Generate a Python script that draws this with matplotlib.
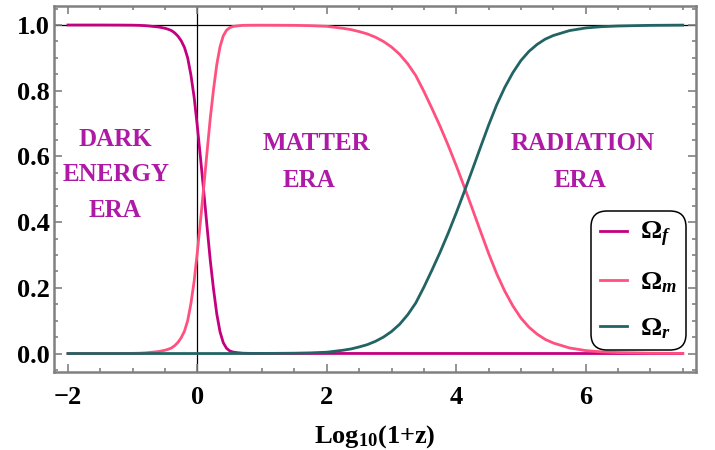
import matplotlib
matplotlib.use("Agg")
import matplotlib.pyplot as plt
from matplotlib.ticker import MultipleLocator, FixedLocator

plt.rcParams['font.family'] = ['Liberation Serif', 'DejaVu Serif']
plt.rcParams['font.weight'] = 'bold'
plt.rcParams['mathtext.fontset'] = 'custom'
plt.rcParams['mathtext.rm'] = 'Liberation Serif:bold'
plt.rcParams['mathtext.bf'] = 'Liberation Serif:bold'
plt.rcParams['mathtext.it'] = 'Liberation Serif:bold:italic'

# Dark-energy fraction vs log10(1+z)
x_f = [-2.0, -1.5, -1.2, -1.0, -0.9, -0.8, -0.7, -0.6, -0.5, -0.45,
       -0.4, -0.35, -0.3, -0.25, -0.2, -0.15, -0.1, -0.05, 0.0, 0.05,
       0.1, 0.15, 0.2, 0.25, 0.3, 0.35, 0.4, 0.45, 0.5, 0.55,
       0.6, 0.7, 0.8, 1.0, 7.5]
omega_f = [1.0, 1.0, 0.9998, 0.9995, 0.999, 0.998, 0.996, 0.994, 0.99, 0.987,
           0.983, 0.976, 0.966, 0.952, 0.932, 0.90, 0.848, 0.78, 0.69, 0.592,
           0.49, 0.385, 0.282, 0.195, 0.12, 0.066, 0.033, 0.016, 0.008, 0.0045,
           0.003, 0.001, 0.0005, 0.0002, 0.0]

# Matter fraction
x_m = [-2.0, -1.5, -1.2, -1.0, -0.9, -0.8, -0.7, -0.6, -0.5, -0.45,
       -0.4, -0.35, -0.3, -0.25, -0.2, -0.15, -0.1, -0.05, 0.0, 0.05,
       0.1, 0.15, 0.2, 0.25, 0.3, 0.35, 0.4, 0.45, 0.5, 0.55,
       0.6, 0.7, 0.8, 1.0, 1.25, 1.5, 1.75, 2.0, 2.25, 2.375,
       2.5, 2.625, 2.75, 2.875, 3.0, 3.125, 3.25, 3.375, 3.5, 3.625,
       3.75, 3.875, 4.0, 4.125, 4.25, 4.375, 4.5, 4.625, 4.75, 4.875,
       5.0, 5.125, 5.25, 5.375, 5.5, 5.75, 6.0, 6.25, 6.5, 7.0,
       7.5]
omega_m = [0.0, 0.0, 0.0002, 0.0005, 0.001, 0.002, 0.004, 0.006, 0.01, 0.013,
           0.017, 0.024, 0.034, 0.048, 0.068, 0.10, 0.152, 0.22, 0.31, 0.408,
           0.51, 0.615, 0.718, 0.805, 0.88, 0.934, 0.967, 0.984, 0.992, 0.9955,
           0.997, 0.999, 0.9993, 0.9995, 0.9993, 0.999, 0.998, 0.996, 0.99, 0.986,
           0.98, 0.973, 0.963, 0.95, 0.933, 0.911, 0.882, 0.846, 0.798, 0.746,
           0.692, 0.634, 0.572, 0.507, 0.44, 0.372, 0.305, 0.243, 0.19, 0.145,
           0.108, 0.08, 0.059, 0.043, 0.032, 0.017, 0.009, 0.005, 0.003, 0.001,
           0.0003]

# Radiation fraction
x_r = [-2.0, 0.5, 1.0, 1.25, 1.5, 1.75, 2.0, 2.25, 2.375, 2.5,
       2.625, 2.75, 2.875, 3.0, 3.125, 3.25, 3.375, 3.5, 3.625, 3.75,
       3.875, 4.0, 4.125, 4.25, 4.375, 4.5, 4.625, 4.75, 4.875, 5.0,
       5.125, 5.25, 5.375, 5.5, 5.75, 6.0, 6.25, 6.5, 7.0, 7.5]
omega_r = [0.0, 0.0, 0.0003, 0.0006, 0.001, 0.002, 0.004, 0.01, 0.014, 0.02,
           0.027, 0.037, 0.05, 0.067, 0.089, 0.118, 0.154, 0.202, 0.254, 0.308,
           0.366, 0.428, 0.493, 0.56, 0.628, 0.695, 0.757, 0.81, 0.855, 0.892,
           0.92, 0.941, 0.957, 0.968, 0.983, 0.991, 0.995, 0.997, 0.999, 0.9997]

x_major = [-2, 0, 2, 4, 6]
x_labels = ['\u22122', '0', '2', '4', '6']
y_major = [0.0, 0.2, 0.4, 0.6, 0.8, 1.0]
y_labels = ['0.0', '0.2', '0.4', '0.6', '0.8', '1.0']

era_color = '#AE1AA6'
frame_color = '#808080'

fig = plt.figure(figsize=(7.15, 4.5), dpi=100)
ax = fig.add_axes([0.0755, 0.1733, 0.898, 0.8133])

ax.axhline(1.0, color='black', lw=0.9, zorder=1)
ax.axvline(0.0, color='black', lw=0.9, zorder=1)

ax.plot(x_f, omega_f, color='#C4007F', lw=2.0, label=r'$\Omega_f$', zorder=2)
ax.plot(x_m, omega_m, color='#FF5080', lw=2.0, label=r'$\Omega_m$', zorder=3)
ax.plot(x_r, omega_r, color='#216463', lw=2.0, label=r'$\Omega_r$', zorder=4)

ax.set_xlim(-2.216, 7.706)
ax.set_ylim(-0.0563, 1.0578)

ax.xaxis.set_major_locator(FixedLocator(x_major))
ax.set_xticklabels(x_labels)
ax.xaxis.set_minor_locator(MultipleLocator(0.5))
ax.yaxis.set_major_locator(FixedLocator(y_major))
ax.set_yticklabels(y_labels)
ax.yaxis.set_minor_locator(MultipleLocator(0.05))

ax.tick_params(which='both', direction='in', top=True, right=True,
               color=frame_color, width=1.2)
ax.tick_params(which='major', length=5.5, labelsize=19)
ax.tick_params(which='minor', length=3)
ax.tick_params(axis='x', which='major', pad=10)
ax.tick_params(axis='y', which='major', pad=3)
for lab in ax.get_xticklabels() + ax.get_yticklabels():
    lab.set_fontweight('bold')

for sp in ax.spines.values():
    sp.set_color(frame_color)
    sp.set_linewidth(1.8)

ax.set_xlabel(r'Log$_{10}$(1+z)', fontsize=19, fontweight='bold', labelpad=10)

txt = dict(color=era_color, fontsize=18, fontweight='bold', ha='center', va='center')
ax.text(-1.27, 0.653, 'DARK', **txt)
ax.text(-1.26, 0.544, 'ENERGY', **txt)
ax.text(-1.27, 0.434, 'ERA', **txt)
ax.text(1.84, 0.638, 'MATTER', **txt)
ax.text(1.725, 0.528, 'ERA', **txt)
ax.text(5.95, 0.638, 'RADIATION', **txt)
ax.text(5.905, 0.528, 'ERA', **txt)

leg = ax.legend(loc='lower right', bbox_to_anchor=(0.9844, 0.060),
                fontsize=19, frameon=True, fancybox=True,
                handlelength=1.0, handletextpad=0.5, labelspacing=0.8,
                borderpad=0.35, borderaxespad=0.0)
frame = leg.get_frame()
frame.set_edgecolor('black')
frame.set_linewidth(1.1)
frame.set_alpha(1.0)
frame.set_boxstyle('round', pad=0.0, rounding_size=0.6)

fig.savefig('out.png', dpi=100)
